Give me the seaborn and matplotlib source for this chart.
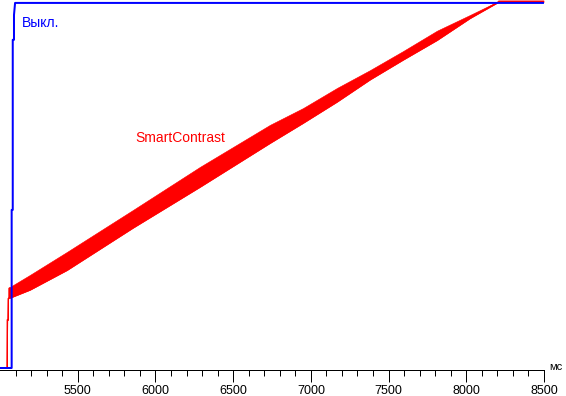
import matplotlib
matplotlib.use("Agg")
import matplotlib.pyplot as plt
import seaborn as sns
import pandas as pd
from matplotlib.ticker import FixedLocator

# ---- data (time in ms, level in %) ----
blue_ms = [5000, 5075, 5075, 5082, 5082, 5090, 5090, 5097, 8497]
blue_val = [0, 0, 43.3, 43.3, 89.9, 89.9, 96.7, 100.0, 100.0]

red_ms = [5000, 5045, 5047, 5051, 5053, 5058, 5064, 5193, 5431, 5856, 6287,
          6737, 6950, 7168, 7381, 7593, 7812, 8024, 8198, 8205, 8497]
red_low = [0, 0, 13.2, 13.2, 19.0, 19.2, 19.2, 21.4, 26.8, 38.4, 49.6,
           61.6, 67.1, 72.9, 79.0, 84.4, 89.8, 95.8, 100.0, 100.2, 100.2]
red_high = [0, 0, 13.2, 13.2, 22.0, 22.2, 22.2, 25.5, 31.8, 43.3, 55.1,
            66.6, 71.2, 76.7, 81.6, 86.8, 92.4, 96.7, 100.3, 100.7, 100.7]

major_ticks = [5500, 6000, 6500, 7000, 7500, 8000, 8500]
minor_ticks = [t for t in range(5100, 8500, 100) if t % 500 != 0]
label_off = "Выкл."
label_smart = "SmartContrast"
unit_label = "мс"

sns.set_theme(style="white")
plt.rcParams["font.family"] = ["Liberation Sans", "DejaVu Sans"]

PX = 0.72  # points per pixel at 100 dpi

fig = plt.figure(figsize=(5.66, 3.96), dpi=100)
ax = fig.add_axes([0, 26 / 396, 544 / 566, 370 / 396])

red_df = pd.DataFrame({"ms": red_ms, "low": red_low, "high": red_high})
blue_df = pd.DataFrame({"ms": blue_ms, "val": blue_val})

ax.fill_between(red_df["ms"], red_df["low"], red_df["high"], color="#ff0000",
                linewidth=0.4, edgecolor="#ff0000", zorder=2, clip_on=False)
sns.lineplot(data=red_df, x="ms", y="low", estimator=None, sort=False,
             color="#ff0000", linewidth=1.4 * PX, ax=ax, zorder=2)
sns.lineplot(data=blue_df, x="ms", y="val", estimator=None, sort=False,
             color="#0000ff", linewidth=2 * PX, ax=ax, zorder=3)

ax.set_xlim(5000, 8500)
ax.set_ylim(-0.55, 100.8)
ax.set_xlabel("")
ax.set_ylabel("")
ax.set_yticks([])

ax.xaxis.set_major_locator(FixedLocator(major_ticks))
ax.xaxis.set_minor_locator(FixedLocator(minor_ticks))
ax.set_xticklabels([str(t) for t in major_ticks])
ax.tick_params(axis="x", which="major", direction="out", length=12 * PX,
               width=1 * PX, color="black", labelsize=9, labelcolor="black",
               pad=3 * PX, bottom=True)
ax.tick_params(axis="x", which="minor", direction="out", length=6 * PX,
               width=1 * PX, color="black", bottom=True)

for s in ["top", "right", "left"]:
    ax.spines[s].set_visible(False)
ax.spines["bottom"].set_color("black")
ax.spines["bottom"].set_linewidth(1 * PX)

ax.text(5142, 94.5, label_off, color="#0000ff", fontsize=10, ha="left", va="center")
ax.text(5869, 63.0, label_smart, color="#ff0000", fontsize=10, ha="left", va="center")
fig.text(549 / 566, 1 - 367 / 396, unit_label, color="black", fontsize=8,
         ha="left", va="center")

fig.savefig("out.png", dpi=100, facecolor="white")
